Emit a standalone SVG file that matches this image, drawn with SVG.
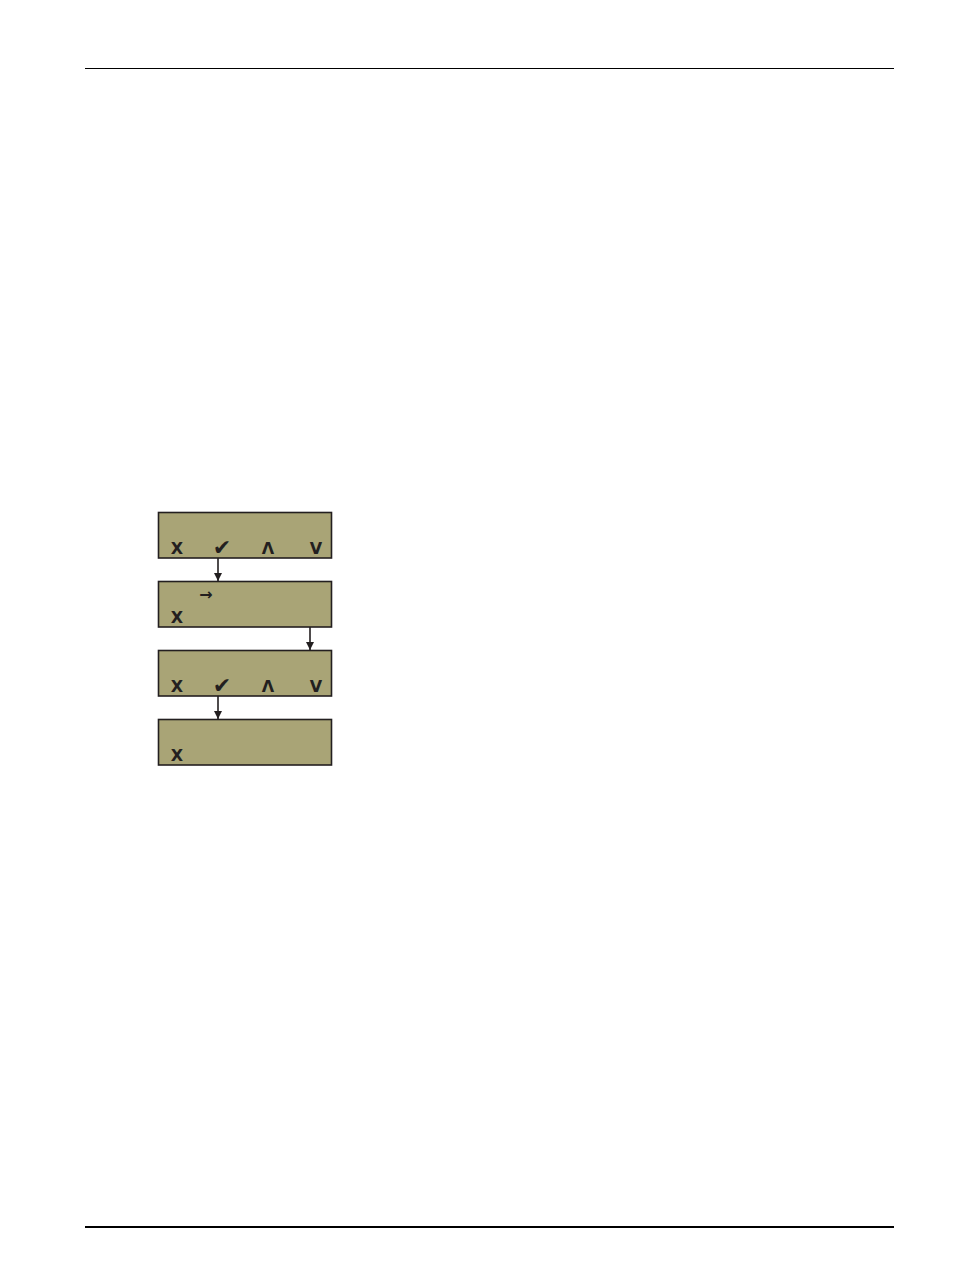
<svg xmlns="http://www.w3.org/2000/svg" width="954" height="1270" viewBox="0 0 954 1270">
<style>
.lcd{fill:#A9A476;stroke:#231f20;stroke-width:1.6}
.k{font-family:"DejaVu Sans","Liberation Sans",sans-serif;font-weight:bold;font-size:16px;fill:#231f20;text-anchor:middle}
.ck{font-family:"DejaVu Sans",sans-serif;font-size:22px;fill:#231f20;text-anchor:middle}
.c{stroke:#231f20;stroke-width:1.6;fill:none}
</style>
<defs>
<marker id="ah" viewBox="0 0 10 10" refX="10" refY="5" markerWidth="8" markerHeight="8" orient="auto" markerUnits="userSpaceOnUse">
<path d="M0,0 L10,5 L0,10 z" fill="#231f20"/>
</marker>
</defs>
<rect width="954" height="1270" fill="#fff"/>
<line x1="85" y1="68.5" x2="894" y2="68.5" stroke="#000" stroke-width="1"/>
<line x1="85" y1="1227" x2="894" y2="1227" stroke="#000" stroke-width="2"/>
<g id="screen1">
<rect class="lcd" x="158.5" y="512.5" width="173" height="45.5"/>
<text class="k" x="177" y="554">X</text>
<text class="ck" x="222" y="555">✔</text>
<text class="k" x="268" y="554">Λ</text>
<text class="k" x="316" y="554">V</text>
</g>
<g id="screen2">
<rect class="lcd" x="158.5" y="581.5" width="173" height="45.5"/>
<text class="k" x="206" y="600" font-size="19">→</text>
<text class="k" x="177" y="623">X</text>
</g>
<g id="screen3">
<rect class="lcd" x="158.5" y="650.5" width="173" height="45.5"/>
<text class="k" x="177" y="692">X</text>
<text class="ck" x="222" y="693">✔</text>
<text class="k" x="268" y="692">Λ</text>
<text class="k" x="316" y="692">V</text>
</g>
<g id="screen4">
<rect class="lcd" x="158.5" y="719.5" width="173" height="45.5"/>
<text class="k" x="177" y="761">X</text>
</g>
<g id="connectors">
<line class="c" x1="218" y1="558" x2="218" y2="581" marker-end="url(#ah)"/>
<line class="c" x1="310" y1="627" x2="310" y2="650" marker-end="url(#ah)"/>
<line class="c" x1="218" y1="696" x2="218" y2="719" marker-end="url(#ah)"/>
</g>
</svg>
